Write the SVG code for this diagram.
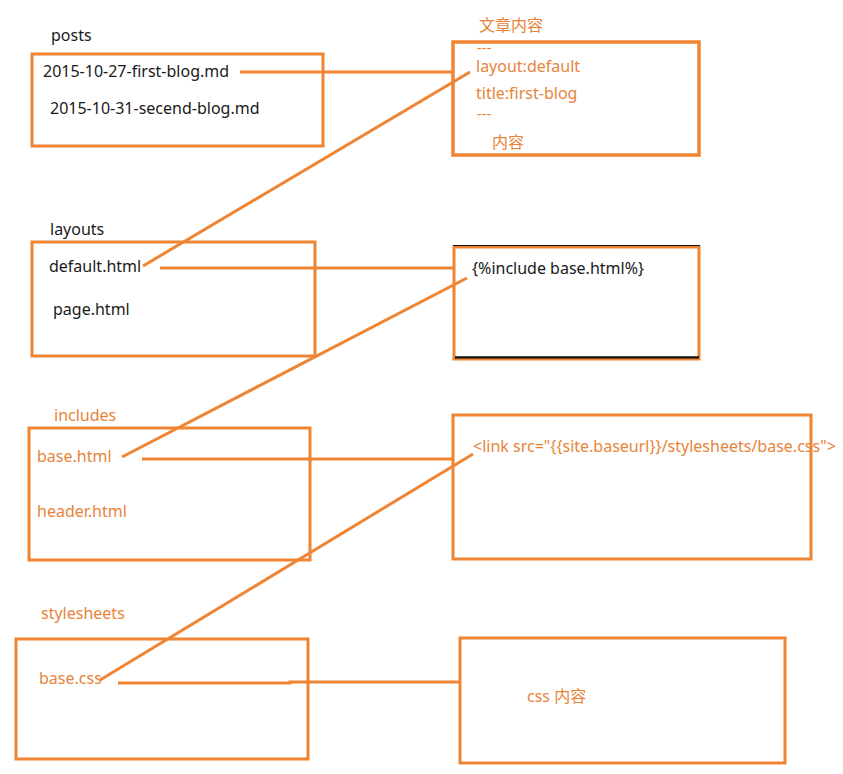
<svg xmlns="http://www.w3.org/2000/svg" width="843" height="774" viewBox="0 0 843 774">
<style>
.box{fill:none;stroke:#EF8433;stroke-width:3}
.con{fill:none;stroke:#EF8433;stroke-width:3}
text{font-family:"Noto Sans","Noto Sans CJK SC",sans-serif;font-size:16px}
.k{fill:#1a1a1a}
.o{fill:#E8843A}
.d{font-size:15px}
</style>
<rect width="843" height="774" fill="#ffffff"/>
<g id="connectors">
<line class="con" x1="240" y1="72" x2="454" y2="72"/>
<line class="con" x1="470" y1="72" x2="143" y2="266"/>
<line class="con" x1="160" y1="268" x2="455" y2="268"/>
<line class="con" x1="467" y1="278" x2="122" y2="457"/>
<line class="con" x1="142" y1="459" x2="454" y2="459"/>
<line class="con" x1="473" y1="454" x2="100" y2="680"/>
<polyline class="con" points="118,683 290,683 290,682 461,682"/>
</g>
<g id="posts">
<text class="k" x="51" y="41">posts</text>
<rect class="box" x="32" y="54" width="291" height="92"/>
<text class="k" x="43" y="77">2015-10-27-first-blog.md</text>
<text class="k" x="50" y="114">2015-10-31-secend-blog.md</text>
</g>
<g id="article">
<text class="o" x="479" y="31">文章内容</text>
<rect class="box" x="453" y="42" width="246" height="113" style="stroke-width:3.5"/>
<text class="o d" x="477" y="53">---</text>
<text class="o" x="476" y="72">layout:default</text>
<text class="o" x="476" y="99">title:first-blog</text>
<text class="o d" x="477" y="119">---</text>
<text class="o" x="492" y="148">内容</text>
</g>
<g id="layouts">
<text class="k" x="50" y="235">layouts</text>
<rect class="box" x="32" y="242" width="283" height="114"/>
<text class="k" x="49" y="272">default.html</text>
<text class="k" x="53" y="315">page.html</text>
</g>
<g id="include-content">
<rect class="box" x="454" y="247" width="245" height="112"/>
<line x1="453" y1="245.5" x2="700" y2="245.5" stroke="#111" stroke-width="1.2"/>
<line x1="455" y1="357.3" x2="699" y2="357.3" stroke="#111" stroke-width="2.2"/>
<text class="k" x="472" y="274">{%include base.html%}</text>
</g>
<g id="includes">
<text class="o" x="54" y="421">includes</text>
<rect class="box" x="29" y="428" width="281" height="132"/>
<text class="o" x="37" y="462">base.html</text>
<text class="o" x="37" y="517">header.html</text>
</g>
<g id="link-content">
<rect class="box" x="453" y="415" width="358" height="144"/>
<text class="o" x="473" y="452">&lt;link src="{{site.baseurl}}/stylesheets/base.css"&gt;</text>
</g>
<g id="stylesheets">
<text class="o" x="41" y="619">stylesheets</text>
<rect class="box" x="16" y="639" width="292" height="120"/>
<text class="o" x="39" y="684">base.css</text>
</g>
<g id="css-content">
<rect class="box" x="460" y="638" width="325" height="125"/>
<text class="o" x="527" y="702">css 内容</text>
</g>
</svg>
